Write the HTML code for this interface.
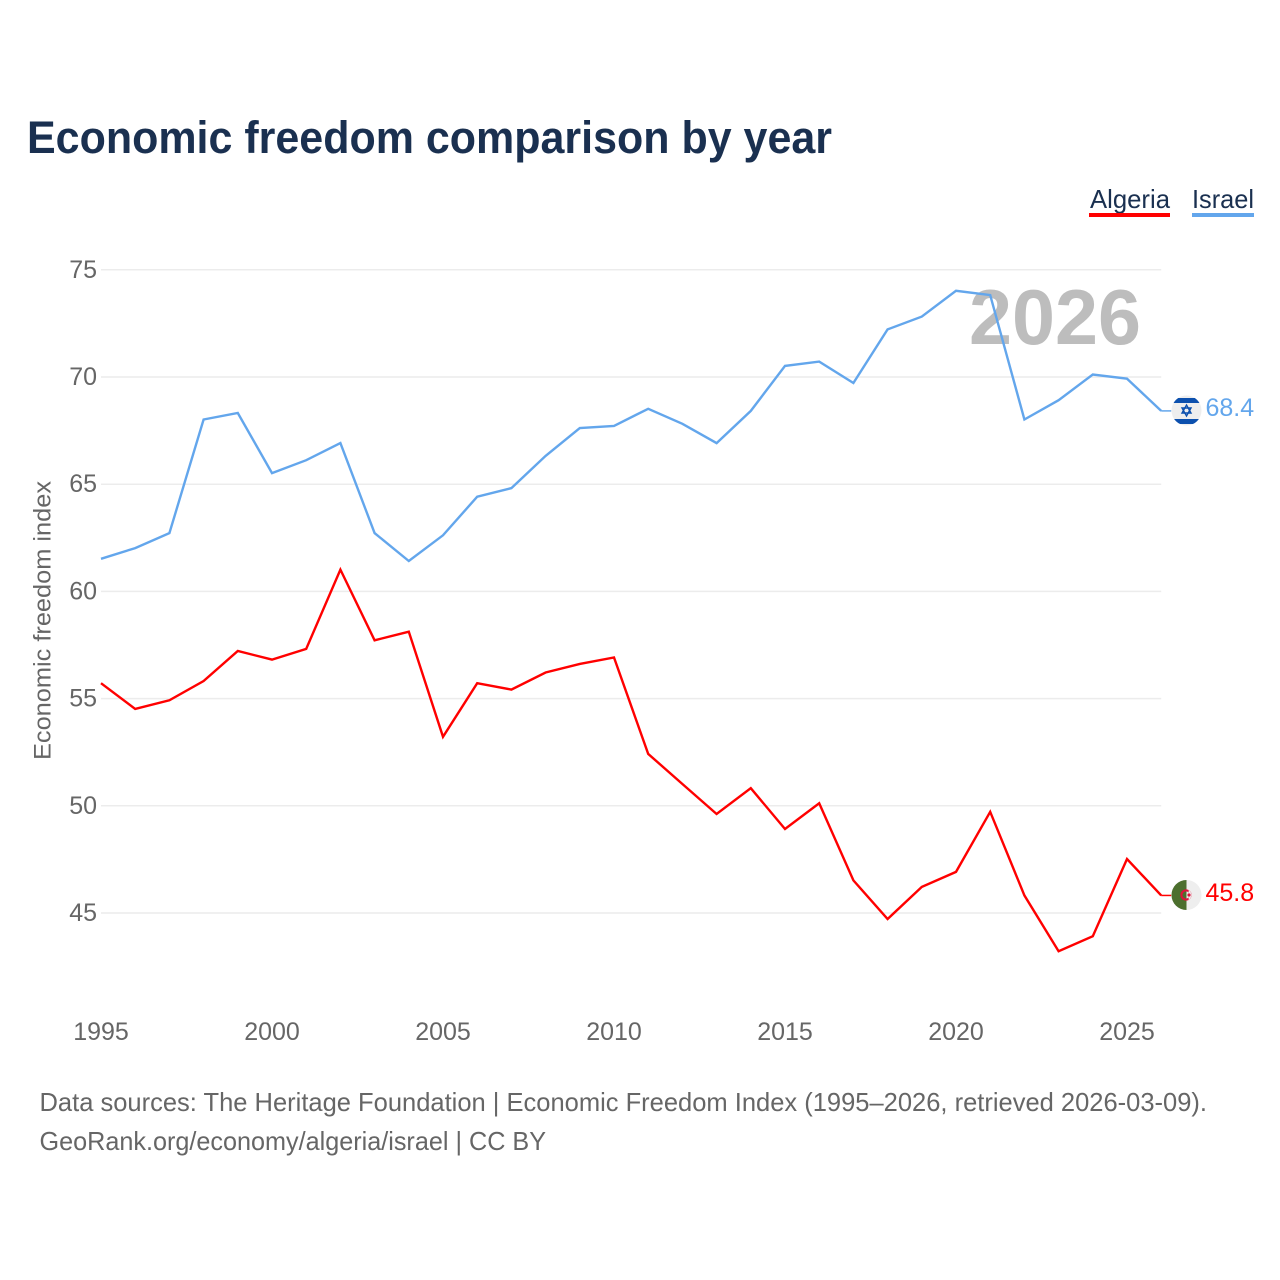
<!DOCTYPE html>
<html>
<head>
<meta charset="utf-8">
<style>
html,body{margin:0;padding:0;background:#fff;width:1280px;height:1280px;overflow:hidden}
svg{display:block}
text{font-family:"Liberation Sans",sans-serif}
</style>
</head>
<body>
<svg id="chart" width="1280" height="1280" viewBox="0 0 1280 1280" xmlns="http://www.w3.org/2000/svg">
<defs>
<clipPath id="clip-il"><circle cx="1186.5" cy="410.5" r="15"/></clipPath>
<clipPath id="clip-dz"><circle cx="1186.5" cy="895" r="15"/></clipPath>
</defs>
<text x="27" y="153" font-size="45" font-weight="700" fill="#1a3050" textLength="805" lengthAdjust="spacingAndGlyphs">Economic freedom comparison by year</text>
<g id="grid"></g>
<text x="969" y="344" font-size="78" font-weight="700" fill="#bdbdbd" textLength="172" lengthAdjust="spacingAndGlyphs">2026</text>
<g id="yticks"></g>
<g id="xticks"></g>
<text transform="translate(50.5,760) rotate(-90)" font-size="24" fill="#666" textLength="279" lengthAdjust="spacingAndGlyphs">Economic freedom index</text>
<g id="series"></g>
<g>
<text x="1090" y="208" font-size="26" fill="#1a3050" textLength="80" lengthAdjust="spacingAndGlyphs">Algeria</text>
<rect x="1089" y="213" width="81" height="4" fill="#ff0000"/>
</g>
<g>
<text x="1192" y="208" font-size="26" fill="#1a3050" textLength="62" lengthAdjust="spacingAndGlyphs">Israel</text>
<rect x="1192" y="213" width="62" height="4" fill="#63a6ec"/>
</g>
<g clip-path="url(#clip-il)">
<rect x="1170" y="394" width="34" height="34" fill="#eeeeee"/>
<rect x="1170" y="398" width="34" height="5" fill="#0c50ae"/>
<rect x="1170" y="419" width="34" height="5" fill="#0c50ae"/>
<polygon points="1186.5,405 1191,413 1182,413" fill="none" stroke="#0c50ae" stroke-width="1.4"/>
<polygon points="1186.5,416 1191,408 1182,408" fill="none" stroke="#0c50ae" stroke-width="1.4"/>
</g>
<g clip-path="url(#clip-dz)">
<rect x="1170" y="878" width="34" height="34" fill="#eeeeee"/>
<rect x="1170" y="878" width="16.5" height="34" fill="#4c6f2e"/>
<circle cx="1186" cy="895" r="4.6" fill="none" stroke="#e0103a" stroke-width="2"/>
<path d="M1188.6 890 A5.8 5.8 0 0 1 1188.6 900 Z" fill="#eeeeee"/>
<circle cx="1189" cy="895" r="1.6" fill="#e0103a"/>
</g>
<text x="1205.5" y="416" font-size="25" fill="#63a6ec">68.4</text>
<text x="1205.5" y="901" font-size="25" fill="#ff0000">45.8</text>
<text x="39.5" y="1111" font-size="26" fill="#666" textLength="1167.5" lengthAdjust="spacingAndGlyphs">Data sources: The Heritage Foundation | Economic Freedom Index (1995–2026, retrieved 2026-03-09).</text>
<text x="39.5" y="1150" font-size="26" fill="#666" textLength="506.5" lengthAdjust="spacingAndGlyphs">GeoRank.org/economy/algeria/israel | CC BY</text>
</svg>
<script>
const years = [1995,1996,1997,1998,1999,2000,2001,2002,2003,2004,2005,2006,2007,2008,2009,2010,2011,2012,2013,2014,2015,2016,2017,2018,2019,2020,2021,2022,2023,2024,2025,2026];
const israelValues = [61.5,62.0,62.7,68.0,68.3,65.5,66.1,66.9,62.7,61.4,62.6,64.4,64.8,66.3,67.6,67.7,68.5,67.8,66.9,68.4,70.5,70.7,69.7,72.2,72.8,74.0,73.8,68.0,68.9,70.1,69.9,68.4];
const algeriaValues = [55.7,54.5,54.9,55.8,57.2,56.8,57.3,61.0,57.7,58.1,53.2,55.7,55.4,56.2,56.6,56.9,52.4,51.0,49.6,50.8,48.9,50.1,46.5,44.7,46.2,46.9,49.7,45.8,43.2,43.9,47.5,45.8];
const yTickValues = [45,50,55,60,65,70,75];
const xTickValues = [1995,2000,2005,2010,2015,2020,2025];

const NS = 'http://www.w3.org/2000/svg';
const xScale = function (year) { return 101 + (year - 1995) * 34.2; };
const yScale = function (value) { return 912.6 - (value - 45) * 21.44; };

const gridGroup = document.getElementById('grid');
const yTickGroup = document.getElementById('yticks');
const xTickGroup = document.getElementById('xticks');
const seriesGroup = document.getElementById('series');

yTickValues.forEach(function (tick) {
  const line = document.createElementNS(NS, 'line');
  
  
  line.setAttribute('x1', xScale(1995));
  line.setAttribute('x2', xScale(2026));
  line.setAttribute('y1', yScale(tick) + 0.4);
  line.setAttribute('y2', yScale(tick) + 0.4);
  line.setAttribute('stroke', '#ececec');
  line.setAttribute('stroke-width', '1.5');
  gridGroup.appendChild(line);

  const label = document.createElementNS(NS, 'text');
  
  
  label.setAttribute('x', 97);
  label.setAttribute('y', yScale(tick) + 8.4);
  label.setAttribute('text-anchor', 'end');
  label.setAttribute('font-size', '25');
  label.setAttribute('fill', '#666');
  label.textContent = tick;
  yTickGroup.appendChild(label);
});

xTickValues.forEach(function (tick) {
  const label = document.createElementNS(NS, 'text');
  
  
  label.setAttribute('x', xScale(tick));
  label.setAttribute('y', 1040);
  label.setAttribute('text-anchor', 'middle');
  label.setAttribute('font-size', '25');
  label.setAttribute('fill', '#666');
  label.textContent = tick;
  xTickGroup.appendChild(label);
});

function pointsFor(values) {
  return values.map(function (value, i) {
    return xScale(years[i]).toFixed(1) + ',' + yScale(value).toFixed(1);
  }).join(' ');
}

const israelLine = document.createElementNS(NS, 'polyline');


israelLine.setAttribute('points', pointsFor(israelValues));
israelLine.setAttribute('fill', 'none');
israelLine.setAttribute('stroke', '#63a6ec');
israelLine.setAttribute('stroke-width', '2.4');
seriesGroup.appendChild(israelLine);

const algeriaLine = document.createElementNS(NS, 'polyline');


algeriaLine.setAttribute('points', pointsFor(algeriaValues));
algeriaLine.setAttribute('fill', 'none');
algeriaLine.setAttribute('stroke', '#ff0000');
algeriaLine.setAttribute('stroke-width', '2.4');
seriesGroup.appendChild(algeriaLine);

const israelConnector = document.createElementNS(NS, 'line');


israelConnector.setAttribute('x1', xScale(2026));
israelConnector.setAttribute('x2', xScale(2026) + 10);
israelConnector.setAttribute('y1', yScale(israelValues[israelValues.length - 1]));
israelConnector.setAttribute('y2', yScale(israelValues[israelValues.length - 1]));
israelConnector.setAttribute('stroke', '#63a6ec');
israelConnector.setAttribute('stroke-width', '1.5');
seriesGroup.appendChild(israelConnector);

const algeriaConnector = document.createElementNS(NS, 'line');


algeriaConnector.setAttribute('x1', xScale(2026));
algeriaConnector.setAttribute('x2', xScale(2026) + 10);
algeriaConnector.setAttribute('y1', yScale(algeriaValues[algeriaValues.length - 1]));
algeriaConnector.setAttribute('y2', yScale(algeriaValues[algeriaValues.length - 1]));
algeriaConnector.setAttribute('stroke', '#ff0000');
algeriaConnector.setAttribute('stroke-width', '1.5');
seriesGroup.appendChild(algeriaConnector);
</script>
</body>
</html>
